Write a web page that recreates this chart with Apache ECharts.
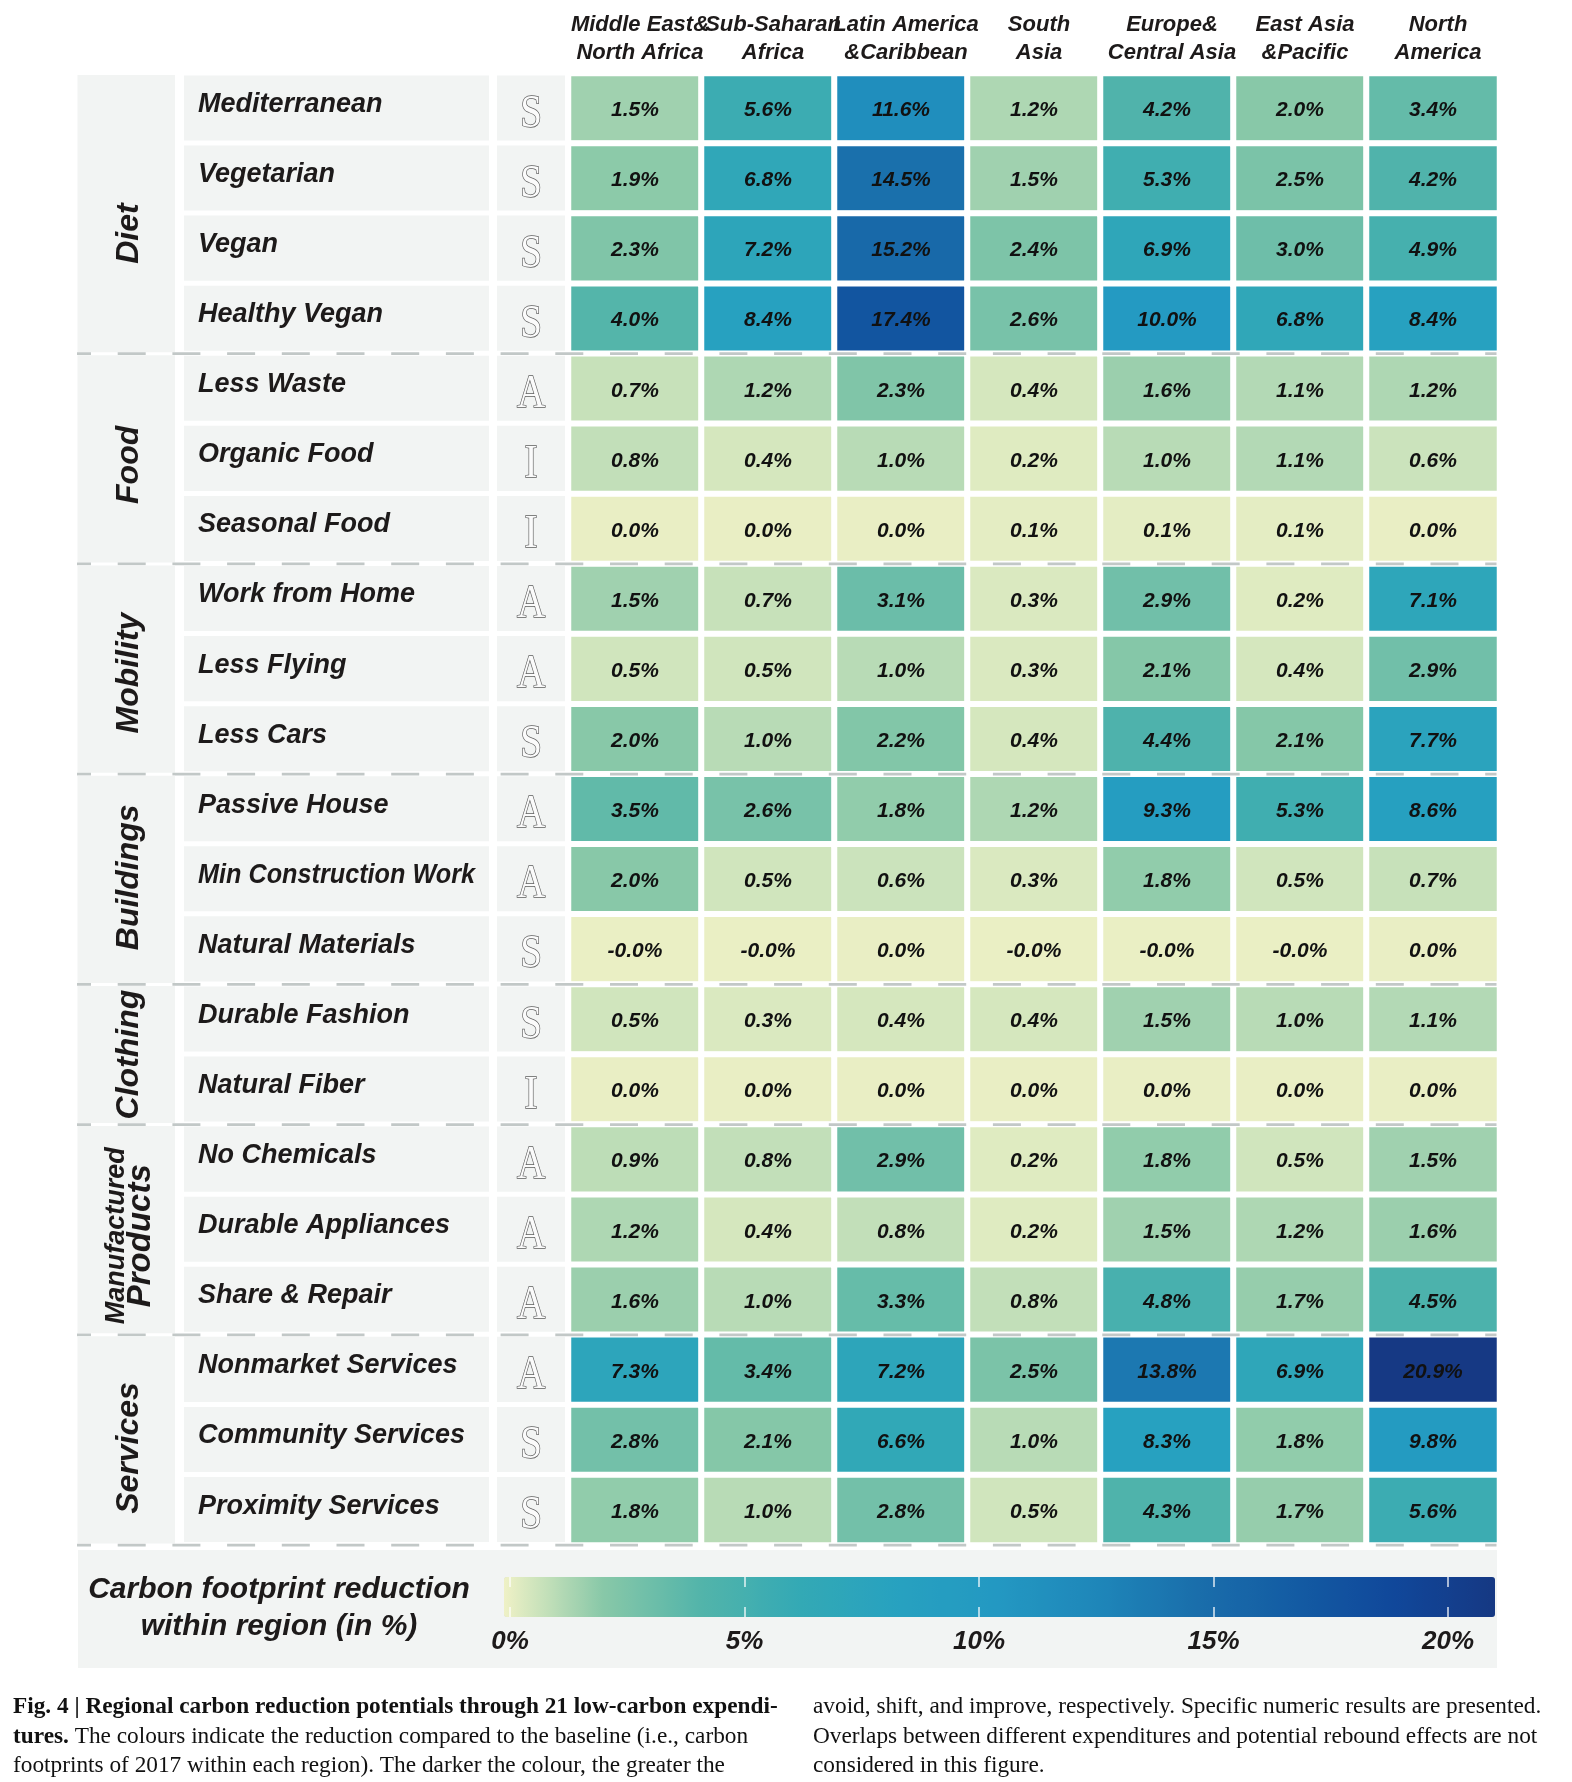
<!DOCTYPE html>
<html><head><meta charset="utf-8">
<script src="https://cdn.jsdelivr.net/npm/echarts@6/dist/echarts.min.js"></script>
<style>html,body{margin:0;padding:0;background:#fff}#c{width:1572px;height:1782px}</style>
</head><body><div id="c"></div>
<script>
// ---------- data ----------
const regions = ['Middle East&\nNorth Africa','Sub-Saharan\nAfrica','Latin America\n&Caribbean','South\nAsia','Europe&\nCentral Asia','East Asia\n&Pacific','North\nAmerica'];
const expenditures = ['Mediterranean','Vegetarian','Vegan','Healthy Vegan','Less Waste','Organic Food','Seasonal Food','Work from Home','Less Flying','Less Cars','Passive House','Min Construction Work','Natural Materials','Durable Fashion','Natural Fiber','No Chemicals','Durable Appliances','Share & Repair','Nonmarket Services','Community Services','Proximity Services'];
const strategy = ['S','S','S','S','A','I','I','A','A','S','A','A','S','S','I','A','A','A','A','S','S'];
const groupNames = ['Diet','Food','Mobility','Buildings','Clothing','Manufactured\nProducts','Services'];
const groupSizes = [4,3,3,3,2,3,3];
const meNA      = [1.5,1.9,2.3,4.0, 0.7,0.8,0.0, 1.5,0.5,2.0, 3.5,2.0,-0.02, 0.5,0.0, 0.9,1.2,1.6, 7.3,2.8,1.8];
const ssAfrica  = [5.6,6.8,7.2,8.4, 1.2,0.4,0.0, 0.7,0.5,1.0, 2.6,0.5,-0.02, 0.3,0.0, 0.8,0.4,1.0, 3.4,2.1,1.0];
const latAm     = [11.6,14.5,15.2,17.4, 2.3,1.0,0.0, 3.1,1.0,2.2, 1.8,0.6,0.0, 0.4,0.0, 2.9,0.8,3.3, 7.2,6.6,2.8];
const southAsia = [1.2,1.5,2.4,2.6, 0.4,0.2,0.1, 0.3,0.3,0.4, 1.2,0.3,-0.02, 0.4,0.0, 0.2,0.2,0.8, 2.5,1.0,0.5];
const eurCA     = [4.2,5.3,6.9,10.0, 1.6,1.0,0.1, 2.9,2.1,4.4, 9.3,1.8,-0.02, 1.5,0.0, 1.8,1.5,4.8, 13.8,8.3,4.3];
const eastAsia  = [2.0,2.5,3.0,6.8, 1.1,1.1,0.1, 0.2,0.4,2.1, 5.3,0.5,-0.02, 1.0,0.0, 0.5,1.2,1.7, 6.9,1.8,1.7];
const northAm   = [3.4,4.2,4.9,8.4, 1.2,0.6,0.0, 7.1,2.9,7.7, 8.6,0.7,0.0, 1.1,0.0, 1.5,1.6,4.5, 20.9,9.8,5.6];
const legendTicks = [0,5,10,15,20];
const legendMin = -0.13;
const legendMax = 21;

// ---------- styles ----------
const groupLabelShift = [20, 6, 4, -2, 0, 6, 8];
const PANEL = '#f2f4f3';
const SANS = '"Liberation Sans", Arial, Helvetica, sans-serif';
const SERIF = '"Liberation Serif", "Times New Roman", serif';
const INK = '#1d1a1a';
const ROW_FONT = 'italic bold 27px ' + SANS;
const ROW_MAXW = 277;
const measureCtx = document.createElement('canvas').getContext('2d');
function textW(t, font) { measureCtx.font = font; return measureCtx.measureText(t).width; }

// ---------- build ----------
const regionValues = [meNA, ssAfrica, latAm, southAsia, eurCA, eastAsia, northAm];
const heatData = [];
regionValues.forEach((arr, r) => arr.forEach((v, i) => heatData.push([r, i, v])));
const groupData = [];
let acc = 0;
groupSizes.forEach((n, k) => { groupData.push([0, acc, acc + n - 1, k]); acc += n; });

const chart = echarts.init(document.getElementById('c'), null, {renderer: 'canvas'});
chart.setOption({
  animation: false,
  backgroundColor: '#fff',
  grid: [
    {left: 568.5, top: 73.4, width: 931, height: 1471.7, containLabel: false, outerBoundsMode: 'none'},
    {left: 504, top: 1577, width: 991, height: 40, containLabel: false, outerBoundsMode: 'none'}
  ],
  xAxis: [
    {type: 'category', gridIndex: 0, data: regions, position: 'top',
     axisLine: {show: false}, axisTick: {show: false}, splitLine: {show: false},
     axisLabel: {interval: 0, margin: 6, fontFamily: SANS, fontSize: 22, fontWeight: 'bold', fontStyle: 'italic',
                 color: INK, lineHeight: 28, align: 'center', padding: [0, 0, 0, 10]}},
    {type: 'value', gridIndex: 1, min: legendMin, max: legendMax, position: 'bottom', z: 10,
     axisLine: {show: false}, splitLine: {show: false},
     axisTick: {show: true, inside: true, length: 10, customValues: legendTicks, lineStyle: {color: 'rgba(255,255,255,0.85)', width: 1.5}},
     axisLabel: {customValues: legendTicks, formatter: '{value}%', margin: 12, fontFamily: SANS, fontSize: 26,
                 fontWeight: 'bold', fontStyle: 'italic', color: INK}},
    {type: 'value', gridIndex: 1, min: legendMin, max: legendMax, position: 'top', z: 10,
     axisLine: {show: false}, splitLine: {show: false}, axisLabel: {show: false},
     axisTick: {show: true, inside: true, length: 10, customValues: legendTicks, lineStyle: {color: 'rgba(255,255,255,0.85)', width: 1.5}}}
  ],
  yAxis: [
    {type: 'category', gridIndex: 0, data: expenditures, inverse: true,
     axisLine: {show: false}, axisTick: {show: false}, axisLabel: {show: false}, splitLine: {show: false}},
    {type: 'value', gridIndex: 1, show: false, min: 0, max: 1}
  ],
  visualMap: {
    type: 'continuous', seriesIndex: 1, min: legendMin, max: legendMax, orient: 'horizontal',
    left: 504, top: 1577, itemWidth: 40, itemHeight: 991, padding: 0,
    calculable: false, hoverLink: false, realtime: false, text: null, show: true,
    inRange: {color: ['#eff1c6','#88c8a8','#52b4aa','#33a9b5','#27a1c0','#2398c2','#1e86b9','#1a6eab','#135ba3','#10479a','#163883']}
  },
  graphic: [
    {type: 'rect', shape: {x: 78, y: 1550, width: 1419, height: 118}, style: {fill: PANEL}, z: -10},
    {type: 'text', x: 279, y: 1608.5, style: {text: 'Carbon footprint reduction\nwithin region (in %)',
      font: 'italic bold 30px ' + SANS, fill: INK, align: 'center', verticalAlign: 'middle', lineHeight: 37}},
    {type: 'text', x: 13, y: 1692.5, style: {
      text: '{b|Fig. 4 | Regional carbon reduction potentials through 21 low-carbon expendi-}\n{b|tures.} The colours indicate the reduction compared to the baseline (i.e., carbon\nfootprints of 2017 within each region). The darker the colour, the greater the',
      fontFamily: SERIF, fontSize: 23.3, lineHeight: 29.5, fill: '#111',
      rich: {b: {fontFamily: SERIF, fontSize: 23.3, fontWeight: 'bold', lineHeight: 29.5, fill: '#111'}}}},
    {type: 'text', x: 813, y: 1692.5, style: {
      text: 'avoid, shift, and improve, respectively. Specific numeric results are presented.\nOverlaps between different expenditures and potential rebound effects are not\nconsidered in this figure.',
      fontFamily: SERIF, fontSize: 23.3, lineHeight: 29.5, fill: '#111'}}
  ],
  series: [
    { // row panels, names and strategy letters
      type: 'custom', xAxisIndex: 0, yAxisIndex: 0, z: 1, silent: true,
      data: expenditures.map((n, i) => [0, i]),
      encode: {x: 0, y: 1},
      renderItem: function (params, api) {
        const i = api.value(1);
        const c = api.coord([0, i]);
        const bh = api.size([0, 1])[1];
        const gx = params.coordSys.x;
        const top = c[1] - bh / 2, cy = c[1];
        const w = textW(expenditures[i], ROW_FONT);
        const sx = w > ROW_MAXW ? ROW_MAXW / w : 1;
        return {type: 'group', children: [
          {type: 'rect', shape: {x: gx - 384.5, y: top + 2, width: 305, height: bh - 5}, style: {fill: PANEL}},
          {type: 'rect', shape: {x: gx - 71.5, y: top + 2, width: 68, height: bh - 5}, style: {fill: PANEL}},
          {type: 'text', x: gx - 370.5, y: cy - 4, scaleX: sx, style: {text: expenditures[i], font: ROW_FONT,
            fill: INK, align: 'left', verticalAlign: 'middle'}},
          {type: 'text', x: gx - 37.5, y: cy + 6, scaleX: 0.85, style: {text: strategy[i], font: '46px ' + SERIF,
            fill: '#fbfbfb', stroke: '#5c5c5c', lineWidth: 1.5, align: 'center', verticalAlign: 'middle'}}
        ]};
      }
    },
    { // heatmap cells
      type: 'heatmap', xAxisIndex: 0, yAxisIndex: 0, z: 2,
      data: heatData,
      itemStyle: {borderColor: '#fff', borderWidth: 6},
      label: {show: true, formatter: p => p.value[2].toFixed(1) + '%', fontFamily: SANS, fontSize: 21,
              fontWeight: 'bold', fontStyle: 'italic', color: '#111', offset: [0, 2]},
      emphasis: {disabled: true}
    },
    { // category panels, labels, dashed separators
      type: 'custom', xAxisIndex: 0, yAxisIndex: 0, z: 3, silent: true,
      data: groupData,
      encode: {x: 0, y: 1},
      renderItem: function (params, api) {
        const s = api.value(1), e = api.value(2), k = api.value(3);
        const bh = api.size([0, 1])[1];
        const gx = params.coordSys.x;
        const top = api.coord([0, s])[1] - bh / 2;
        const bot = api.coord([0, e])[1] + bh / 2;
        const name = groupNames[k];
        const isTwo = name.indexOf('\n') >= 0;
        const parts = name.split('\n');
        const txtStyle = isTwo
          ? {text: '{a|' + parts[0] + '}\n{b|' + parts[1] + '}',
             rich: {a: {fontFamily: SANS, fontSize: 27, fontWeight: 'bold', fontStyle: 'italic', lineHeight: 24, fill: INK, align: 'center'},
                    b: {fontFamily: SANS, fontSize: 33, fontWeight: 'bold', fontStyle: 'italic', lineHeight: 24, fill: INK, align: 'center'}},
             align: 'center', verticalAlign: 'middle'}
          : {text: name, font: 'italic bold 32px ' + SANS, fill: INK, align: 'center', verticalAlign: 'middle'};
        return {type: 'group', children: [
          {type: 'rect', shape: {x: gx - 491, y: top + 1.5, width: 97.5, height: bot - top - 3}, style: {fill: PANEL}},
          {type: 'text', x: gx - 439.5, y: (top + bot) / 2 + groupLabelShift[k], rotation: Math.PI / 2, style: txtStyle},
          {type: 'line', shape: {x1: gx - 491.5, y1: bot, x2: gx + 928, y2: bot},
           style: {stroke: '#c2c8c7', lineWidth: 2.7, lineDash: [28, 26.7], lineDashOffset: 14}}
        ]};
      }
    }
  ]
});
</script></body></html>
